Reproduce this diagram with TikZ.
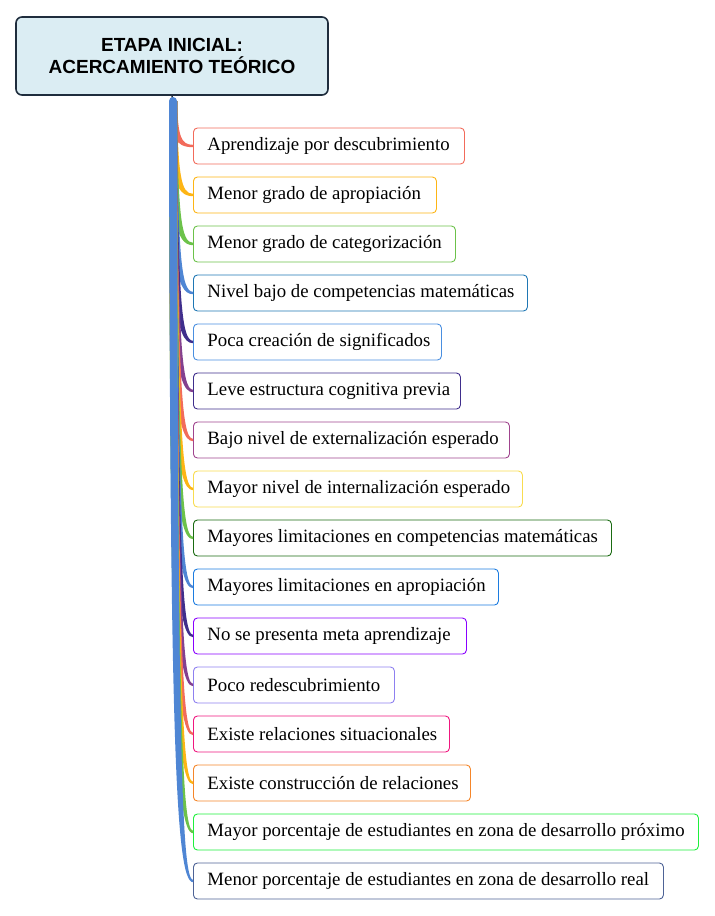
\documentclass[tikz,border=0pt]{standalone}
\usepackage{fontspec}
\setmainfont{Liberation Serif}
\newfontfamily\titlefont{Liberation Sans}
\definecolor{titleborder}{HTML}{1F2D3D}
\definecolor{titlefill}{HTML}{DBEDF3}
\definecolor{lred}{HTML}{F26B5B}
\definecolor{lorange}{HTML}{FDB515}
\definecolor{lgreen}{HTML}{6CC24A}
\definecolor{lblue}{HTML}{4F86D4}
\definecolor{lindigo}{HTML}{3F2E8C}
\definecolor{lpurple}{HTML}{83408F}
\definecolor{bc1}{HTML}{F26B5B}
\definecolor{bc2}{HTML}{FDB515}
\definecolor{bc3}{HTML}{6CC24A}
\definecolor{bc4}{HTML}{1F77B4}
\definecolor{bc5}{HTML}{4A8FE0}
\definecolor{bc6}{HTML}{3F2E8C}
\definecolor{bc7}{HTML}{A0448E}
\definecolor{bc8}{HTML}{F8DC50}
\definecolor{bc9}{HTML}{1A6B12}
\definecolor{bc10}{HTML}{1C7CE0}
\definecolor{bc11}{HTML}{8A00FF}
\definecolor{bc12}{HTML}{8E80F0}
\definecolor{bc13}{HTML}{F0177F}
\definecolor{bc14}{HTML}{F5862A}
\definecolor{bc15}{HTML}{1EF03C}
\definecolor{bc16}{HTML}{4E6396}
\begin{document}
\begin{tikzpicture}[x=1pt,y=-1pt,
  box/.style={draw, rounded corners=4pt, line width=0.9pt, fill=white,
    inner xsep=14pt, inner ysep=0pt, minimum height=36pt, anchor=west,
    font=\fontsize{18.8}{22}\selectfont},
  titlebox/.style={draw=titleborder, fill=titlefill, line width=1.6pt,
    rounded corners=6pt, minimum width=312pt, minimum height=78pt, align=center,
    font=\titlefont\bfseries\fontsize{19}{22}\selectfont},
  stem/.style={titleborder, line width=1.5pt}]
\useasboundingbox (0,0) rectangle (715,916);
\node[titlebox] (t) at (172,56) {ETAPA INICIAL:\\ACERCAMIENTO TEÓRICO};
\coordinate (root) at (173,101);
\foreach \i/\txt/\w in {
  1/Aprendizaje por descubrimiento/271,
  2/Menor grado de apropiación/243,
  3/Menor grado de categorización/262,
  4/Nivel bajo de competencias matemáticas/334,
  5/Poca creación de significados/248,
  6/Leve estructura cognitiva previa/267,
  7/Bajo nivel de externalización esperado/316,
  8/Mayor nivel de internalización esperado/329,
  9/Mayores limitaciones en competencias matemáticas/418,
  10/Mayores limitaciones en apropiación/305,
  11/No se presenta meta aprendizaje/273,
  12/Poco redescubrimiento/201,
  13/Existe relaciones situacionales/256,
  14/Existe construcción de relaciones/277,
  15/Mayor porcentaje de estudiantes en zona de desarrollo próximo/505,
  16/Menor porcentaje de estudiantes en zona de desarrollo real/470}{
  \node[box, draw=bc\i] (b\i) at (193,{146+49*(\i-1)})
    {\makebox[\dimexpr\w pt-28pt\relax][l]{\txt}};
}
\draw[stem] (t.south) -- (root);
\foreach \i/\c in {1/lred,2/lorange,3/lgreen,4/lblue,5/lindigo,6/lpurple,
  7/lred,8/lorange,9/lgreen,10/lblue,11/lindigo,12/lpurple,
  13/lred,14/lorange,15/lgreen,16/lblue}{
  \pgfmathsetmacro\Y{146+49*(\i-1)}
  \pgfmathsetmacro\M{100+0.8*(\Y-100)}
  \fill[\c] ([xshift=-4pt]root) .. controls (170,\M) and (175,{\Y+1.2})
    .. ([yshift=-1.2pt]b\i.west) -- ([yshift=1.2pt]b\i.west)
    .. controls (181,{\Y-1.2}) and (178,\M) .. ([xshift=4pt]root) -- cycle;
}
\fill[lblue] (root) circle (4pt);
\end{tikzpicture}
\end{document}
